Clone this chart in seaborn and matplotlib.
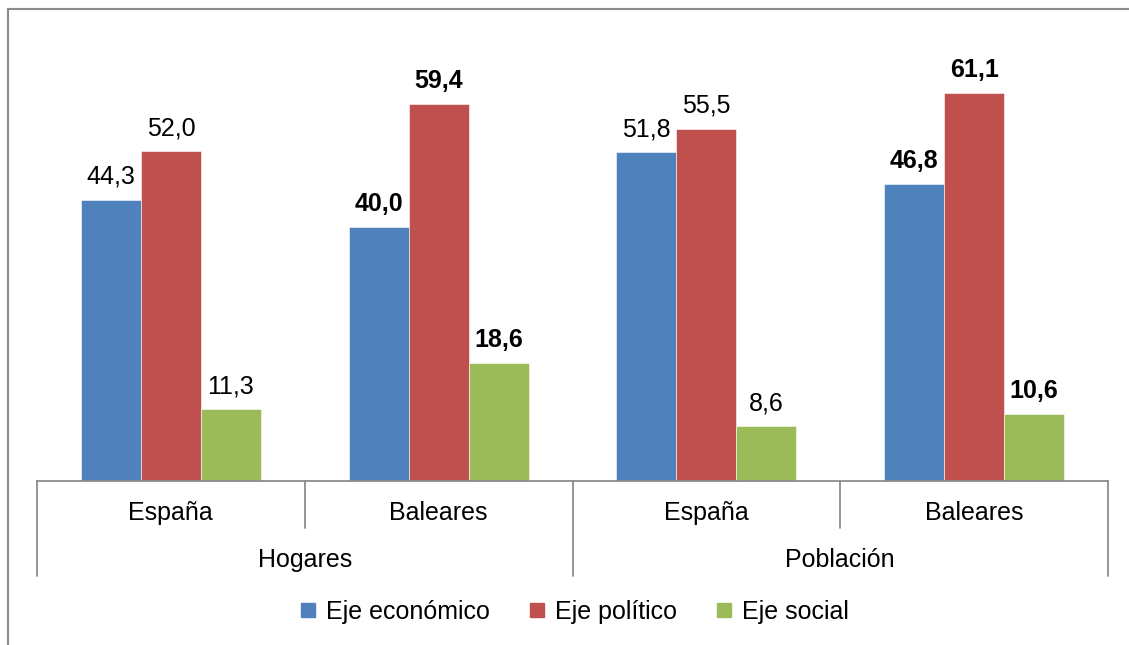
import pandas as pd
import seaborn as sns
import matplotlib.pyplot as plt
from matplotlib.lines import Line2D

# datos del gráfico
ambitos = ['Hogares', 'Población']
territorios = ['España', 'Baleares']
ejes = ['Eje económico', 'Eje político', 'Eje social']
economico = [44.3, 40.0, 51.8, 46.8]
politico = [52.0, 59.4, 55.5, 61.1]
social = [11.3, 18.6, 8.6, 10.6]
colores = ['#4F81BD', '#C0504D', '#9BBB59']

sns.set_style('white')
plt.rcParams['font.family'] = ['Liberation Sans', 'DejaVu Sans']
plt.rcParams['text.color'] = 'black'
FS = 18

cats = [f'{a}|{t}' for a in ambitos for t in territorios]
rows = []
for eje, vals in zip(ejes, [economico, politico, social]):
    for c, v in zip(cats, vals):
        rows.append({'cat': c, 'eje': eje, 'valor': v})
df = pd.DataFrame(rows)

fig = plt.figure(figsize=(11.29, 6.45), dpi=100)
ax = fig.add_axes([37 / 1129, 1 - 481 / 645, (1108 - 37) / 1129, (481 - 37) / 645])

sns.barplot(data=df, x='cat', y='valor', hue='eje', order=cats, hue_order=ejes,
            palette=colores, width=0.672, errorbar=None, saturation=1,
            edgecolor='white', linewidth=0.4, legend=False, ax=ax)

ax.set_ylim(0, 70)
ax.set_xlim(-0.5, len(cats) - 0.5)
ax.set_xlabel('')
ax.set_ylabel('')
ax.set_yticks([])
ax.set_xticks([])
for s in ['top', 'right', 'left']:
    ax.spines[s].set_visible(False)
ax.spines['bottom'].set_color('#8c8c8c')
ax.spines['bottom'].set_linewidth(1.3)

# etiquetas de datos (Baleares en negrita)
for cont in ax.containers:
    vals = [b.get_height() for b in cont]
    texts = ax.bar_label(cont, labels=[f'{v:.1f}'.replace('.', ',') for v in vals],
                         padding=8, fontsize=FS, color='black')
    for i, t in enumerate(texts):
        if cats[i].endswith('Baleares'):
            t.set_fontweight('bold')

# eje de categorías de dos niveles
h_ax = 444.0
trans = ax.get_xaxis_transform()
for i, c in enumerate(cats):
    ax.text(i, -32 / h_ax, c.split('|')[1], transform=trans, ha='center', va='center',
            fontsize=FS, color='black')
for j, a in enumerate(ambitos):
    ax.text(2 * j + 0.5, -79 / h_ax, a, transform=trans, ha='center', va='center',
            fontsize=FS, color='black')
for k in range(len(cats) + 1):
    x = k - 0.5
    bottom = -95 / h_ax if k % 2 == 0 else -47 / h_ax
    ax.plot([x, x], [0, bottom], transform=trans, color='#8c8c8c', lw=1.3, clip_on=False)

# leyenda
handles = [Line2D([], [], marker='s', linestyle='', markersize=9.5, color=c) for c in colores]
fig.legend(handles, ejes, loc='center', bbox_to_anchor=(575 / 1129, 1 - 612 / 645),
           ncol=3, frameon=False, fontsize=FS, handlelength=0.55, handletextpad=0.45,
           columnspacing=1.6, labelcolor='black')

# marco del gráfico
fig.add_artist(Line2D([8 / 1129, 1], [1 - 9 / 645, 1 - 9 / 645], color='#8a8a8a', lw=1.5))
fig.add_artist(Line2D([8 / 1129, 8 / 1129], [0, 1 - 9 / 645], color='#8a8a8a', lw=1.5))

fig.savefig('out.png', dpi=100)
